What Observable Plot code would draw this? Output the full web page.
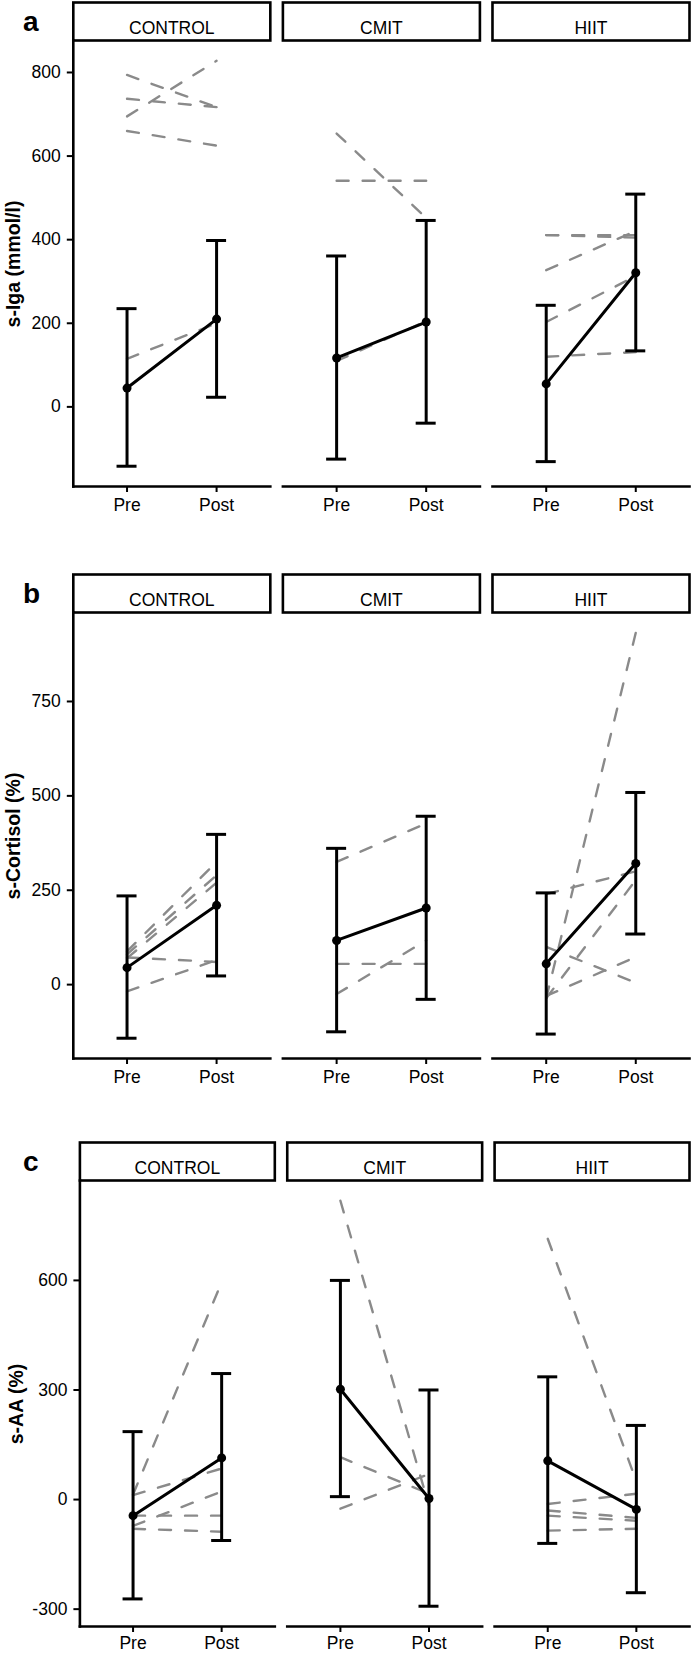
<!DOCTYPE html>
<html><head><meta charset="utf-8">
<script src="https://cdn.jsdelivr.net/npm/d3@7"></script>
<script src="https://cdn.jsdelivr.net/npm/@observablehq/plot@0.6"></script>
<style>
body{margin:0;background:#fff;}
#wrap{position:relative;width:691px;height:1653px;overflow:hidden;font-family:"Liberation Sans",Arial,Helvetica,sans-serif;color:#000;}
.panel{position:absolute;left:0;}
.tag{position:absolute;font-weight:bold;font-size:28px;line-height:28px;}
.ytitle{position:absolute;font-weight:bold;font-size:19.5px;line-height:20px;white-space:nowrap;transform:translate(-50%,-50%) rotate(-90deg);}
</style></head><body><div id="wrap"></div>
<script>
const groups = ["CONTROL", "CMIT", "HIIT"];
const times = ["Pre", "Post"];

// (a) s-Iga (mmol/l): group means, error-bar ends, individual subjects [group, pre, post]
const igaMean = [[45, 210], [117, 203], [55, 321]];
const igaLow  = [[-142, 23], [-125, -39], [-131, 134]];
const igaHigh = [[235, 398], [361, 446], [243, 509]];
const igaSubjects = [
  [0, 794, 717], [0, 737, 717], [0, 695, 828], [0, 660, 625], [0, 115, 200],
  [1, 654, 452], [1, 541, 541], [1, 110, 205],
  [2, 411, 411], [2, 411, 405], [2, 327, 421], [2, 203, 313], [2, 120, 131]
];
const igaTicks = [0, 200, 400, 600, 800];

// (b) s-Cortisol (%)
const cortMean = [[45, 210], [117, 203], [55, 321]];
const cortLow  = [[-142, 23], [-125, -39], [-131, 134]];
const cortHigh = [[235, 398], [361, 446], [243, 509]];
const cortSubjects = [
  [0, 88, 325], [0, 80, 290], [0, 70, 270], [0, 72, 60], [0, -18, 65],
  [1, 325, 427], [1, 55, 55], [1, -25, 117],
  [2, -36, 932], [2, -36, 277], [2, 240, 300], [2, 100, 5], [2, -30, 73]
];
const cortTicks = [0, 250, 500, 750];

// (c) s-AA (%)
const aaMean = [[-44, 114], [302, 3], [106, -27]];
const aaLow  = [[-272, -112], [8, -292], [-120, -255]];
const aaHigh = [[186, 345], [600, 300], [336, 203]];
const aaSubjects = [
  [0, 14, 595], [0, 12, 85], [0, -72, 22], [0, -44, -44], [0, -80, -88],
  [1, 818, -17], [1, 116, 16], [1, -25, 70],
  [2, 714, 50], [2, -12, 16], [2, -30, -50], [2, -44, -58], [2, -85, -80]
];
const aaTicks = [-300, 0, 300, 600];

const FONT = '"Liberation Sans", Arial, Helvetica, sans-serif';
const FS = 17.5;
const wrap = document.getElementById("wrap");

function panel({top, height, marginLeft, tag, title, titleX, mean, low, high, subjects, ticks, xPad}) {
  const summary = [];
  groups.forEach((g, gi) => times.forEach((t, ti) => summary.push({
    g, t, m: mean[gi][ti], lo: low[gi][ti], hi: high[gi][ti]
  })));
  const indiv = [];
  subjects.forEach((s, si) => times.forEach((t, ti) => indiv.push({
    g: groups[s[0]], id: si, t, v: s[1 + ti]
  })));
  const all = [...summary.flatMap(d => [d.lo, d.hi]), ...indiv.map(d => d.v)];
  const [mn, mx] = d3.extent(all);
  const pad = (mx - mn) * 0.05;
  const marginTop = 40, marginBottom = height - 486;
  const plotH = 486 - marginTop;

  const chart = Plot.plot({
    width: 691, height, marginTop, marginBottom, marginLeft, marginRight: 2,
    style: {fontFamily: FONT, fontSize: FS + "px", background: "transparent", color: "#000"},
    fx: {domain: groups, paddingInner: 0.06, paddingOuter: 0, round: false, axis: null, label: null},
    x: {type: "point", domain: times, padding: 0.6, round: false, label: null},
    y: {domain: [mn - pad, mx + pad], label: null},
    marks: [
      Plot.frame({insetTop: -38, insetBottom: plotH, fill: "white", stroke: "black", strokeWidth: 2.6}),
      Plot.text(groups, {fx: d => d, text: d => d, frameAnchor: "top", dy: -19, fontSize: FS, fill: "black"}),
      Plot.frame({anchor: "bottom", stroke: "black", strokeWidth: 2.6}),
      Plot.frame({anchor: "left", facetAnchor: "left", stroke: "black", strokeWidth: 2.6}),
      Plot.axisX({tickSize: 6, tickPadding: xPad, fontSize: FS, strokeWidth: 2, label: null, color: "#000"}),
      Plot.axisY({ticks, tickSize: 6, tickPadding: 6.5, fontSize: FS, strokeWidth: 2, label: null,
                  tickFormat: d => String(d), color: "#000"}),
      Plot.line(indiv, {x: "t", y: "v", z: "id", fx: "g", stroke: "#8a8a8a", strokeWidth: 2.4,
                        strokeDasharray: "12,14"}),
      Plot.ruleX(summary, {x: "t", y1: "lo", y2: "hi", fx: "g", stroke: "black", strokeWidth: 3}),
      Plot.ruleY(summary, {x1: "t", x2: "t", y: "lo", fx: "g", insetLeft: -10, insetRight: -10, stroke: "black", strokeWidth: 3}),
      Plot.ruleY(summary, {x1: "t", x2: "t", y: "hi", fx: "g", insetLeft: -10, insetRight: -10, stroke: "black", strokeWidth: 3}),
      Plot.line(summary, {x: "t", y: "m", z: "g", fx: "g", stroke: "black", strokeWidth: 3}),
      Plot.dot(summary, {x: "t", y: "m", fx: "g", r: 4.5, fill: "black", stroke: "none"})
    ]
  });
  const div = document.createElement("div");
  div.className = "panel";
  div.style.top = top + "px";
  div.appendChild(chart);
  wrap.appendChild(div);

  const tg = document.createElement("div");
  tg.className = "tag";
  tg.textContent = tag;
  tg.style.left = "23px";
  tg.style.top = (top + 8) + "px";
  wrap.appendChild(tg);

  const yt = document.createElement("div");
  yt.className = "ytitle";
  yt.textContent = title;
  yt.style.left = titleX + "px";
  yt.style.top = (top + 264) + "px";
  wrap.appendChild(yt);
}

panel({top: 0, height: 572, marginLeft: 72.8, tag: "a", title: "s-Iga (mmol/l)", titleX: 13, xPad: 6,
       mean: igaMean, low: igaLow, high: igaHigh, subjects: igaSubjects, ticks: igaTicks});
panel({top: 572, height: 572, marginLeft: 72.8, tag: "b", title: "s-Cortisol (%)", titleX: 13, xPad: 6,
       mean: cortMean, low: cortLow, high: cortHigh, subjects: cortSubjects, ticks: cortTicks});
panel({top: 1140, height: 513, marginLeft: 79.4, tag: "c", title: "s-AA (%)", titleX: 16, xPad: 4,
       mean: aaMean, low: aaLow, high: aaHigh, subjects: aaSubjects, ticks: aaTicks});
</script>
</body></html>
